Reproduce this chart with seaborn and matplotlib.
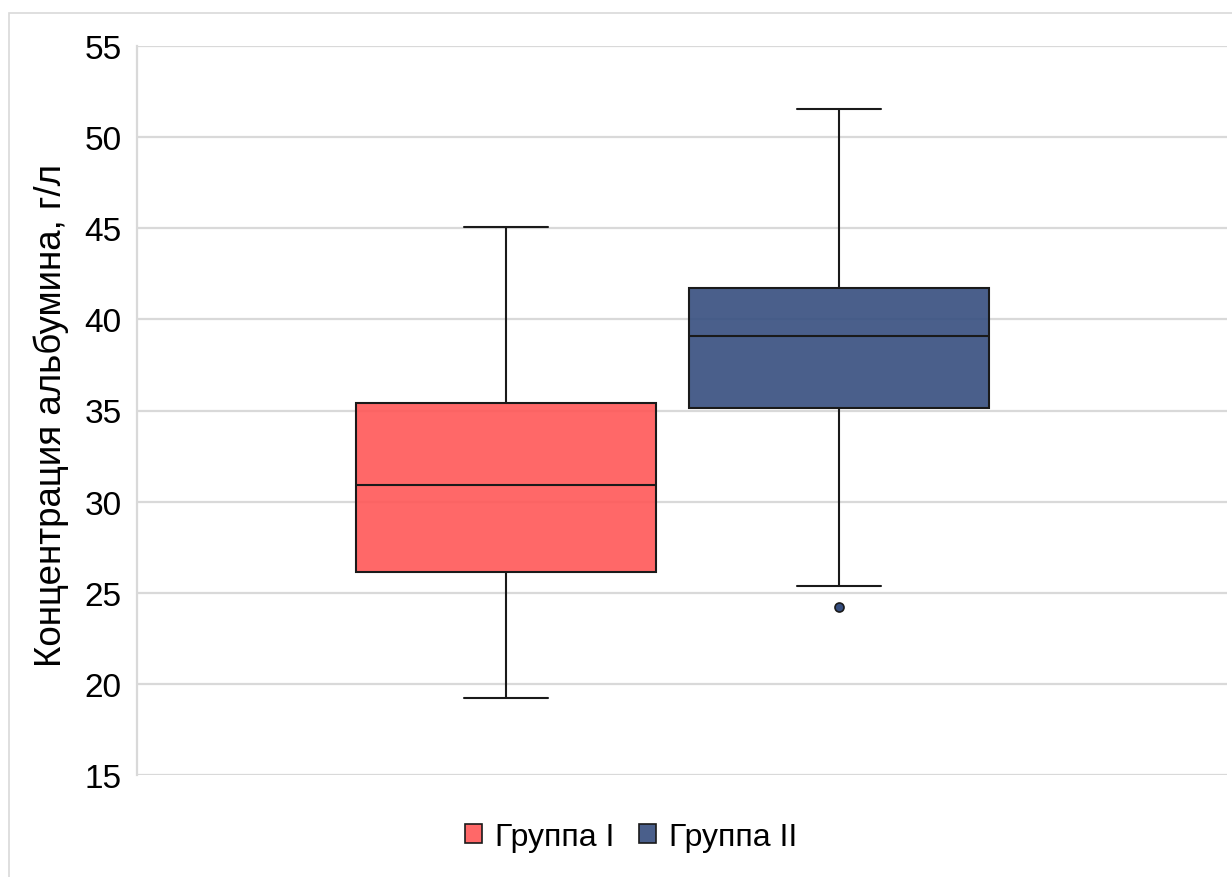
import numpy as np
import pandas as pd
import matplotlib
matplotlib.use("Agg")
import matplotlib.pyplot as plt
from matplotlib.patches import Patch, Rectangle
from matplotlib.colors import to_rgba
import seaborn as sns

# Five-number summaries of albumin concentration (g/L) per group
groups = ["Группа I", "Группа II"]
whisker_low = [19.22, 25.37]
q1 = [26.14, 35.14]
median = [30.91, 39.09]
q3 = [35.41, 41.72]
whisker_high = [45.07, 51.54]
outliers = [[], [24.22]]

colors = ["#FF5757", "#364E7F"]
ylabel = "Концентрация альбумина, г/л"
yticks = [15, 20, 25, 30, 35, 40, 45, 50, 55]


def sample_from_summary(lo, a, m, b, hi, out):
    # nine ordered values whose quartiles/whiskers reproduce the summary
    first = out[0] if out else lo
    return [first, lo, a, a, m, b, b, hi, hi]


rows = []
for i, g in enumerate(groups):
    vals = sample_from_summary(whisker_low[i], q1[i], median[i], q3[i],
                               whisker_high[i], outliers[i])
    rows += [{"cat": "", "group": g, "value": v} for v in vals]
df = pd.DataFrame(rows)

sns.set_theme(style="white")
plt.rcParams["font.family"] = ["Liberation Sans", "DejaVu Sans"]
plt.rcParams["text.color"] = "#000000"

W, H = 1232, 878
fig = plt.figure(figsize=(W / 100, H / 100), dpi=100)
ax = fig.add_axes([137 / W, 1 - 776 / H, (1227 - 137) / W, (776 - 47) / H])

grid_c = "#D9D9D9"
ax.set_axisbelow(True)
ax.yaxis.grid(True, color=grid_c, lw=1.6)
ax.xaxis.grid(False)

sns.boxplot(data=df, x="cat", y="value", hue="group", hue_order=groups,
            palette=colors, width=0.8, gap=0.1, whis=1.5,
            linecolor="#1A1A1A", linewidth=1.5, legend=False, ax=ax,
            capwidths=0.102,
            flierprops={"marker": "o", "markersize": 6.5,
                        "markerfacecolor": colors[1],
                        "markeredgecolor": "#1A1A1A",
                        "markeredgewidth": 1.2})

for p, c in zip(ax.patches, colors):
    p.set_facecolor(to_rgba(c, 0.9))

ax.set_xlim(-0.6432, 0.666)
ax.set_ylim(15, 55)
ax.set_yticks(yticks)
ax.set_xticks([])
ax.set_xlabel("")
ax.set_ylabel(ylabel, fontsize=26.5, color="#000000")
ax.yaxis.set_label_coords(-0.062, 0.495)
ax.tick_params(axis="y", length=0, pad=11, labelsize=24, labelcolor="#000000")

for s in ["top", "right", "bottom"]:
    ax.spines[s].set_visible(False)
ax.spines["left"].set_color(grid_c)
ax.spines["left"].set_linewidth(1.6)

handles = [Patch(facecolor=to_rgba(c, 0.9), edgecolor="#1A1A1A", lw=1.2, label=g)
           for c, g in zip(colors, groups)]
leg = fig.legend(handles=handles, loc="center", bbox_to_anchor=(631 / W, 1 - 838 / H),
                 ncol=2, frameon=False, fontsize=23, handlelength=0.56,
                 handleheight=0.56, handletextpad=0.4, columnspacing=0.75)
for t in leg.get_texts():
    t.set_color("#000000")

fig.add_artist(Rectangle((9 / W, -0.1), 1.5, 1 - 14 / H + 0.1,
                         transform=fig.transFigure, fill=False,
                         edgecolor=grid_c, lw=1.2))

fig.savefig("out.png", dpi=100, facecolor="white")
